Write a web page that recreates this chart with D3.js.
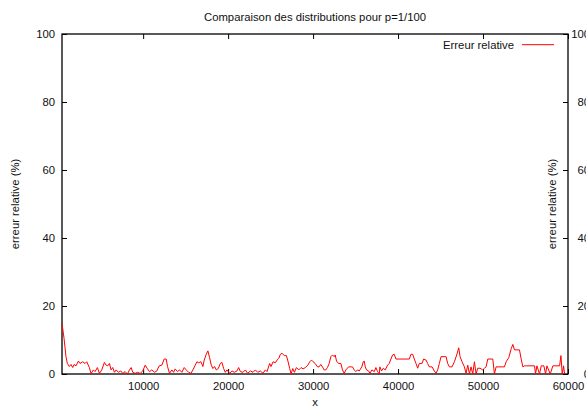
<!DOCTYPE html>
<html>
<head>
<meta charset="utf-8">
<script src="https://cdn.jsdelivr.net/npm/d3@7"></script>
<style>
  body { margin: 0; background: #fff; }
  text { font-family: "Liberation Sans", Arial, sans-serif; fill: #111; }
</style>
</head>
<body>
<svg id="chart" width="586" height="409"></svg>
<script>
"use strict";

// valeurs
var chartTitle = "Comparaison des distributions pour p=1/100";
var seriesName = "Erreur relative";
var xTicks = [10000, 20000, 30000, 40000, 50000, 60000];
var yTicks = [0, 20, 40, 60, 80, 100];

var xValues = [
  450, 690, 920, 1080, 1310, 1510, 1710, 1870, 2100, 2380, 2570, 2890, 3160, 3360, 3670, 3870,
  4140, 4340, 4620, 4850, 5130, 5440, 5640, 5830, 6030, 6230, 6420, 6620, 6820, 7090, 7370, 7600,
  7880, 8150, 8390, 8590, 8780, 9060, 9330, 9650, 9960, 10240, 10510, 10750, 11020, 11340, 11610, 11890,
  12200, 12480, 12710, 12870, 13100, 13380, 13580, 13770, 14050, 14280, 14560, 14830, 15070, 15350, 15620, 15860,
  16130, 16330, 16520, 16800, 17030, 17190, 17430, 17620, 17820, 18020, 18210, 18410, 18610, 18840, 19080, 19280,
  19470, 19670, 19860, 20180, 20450, 20730, 21040, 21240, 21440, 21750, 22030, 22300, 22620, 22930, 23210, 23480,
  23790, 24110, 24380, 24580, 24890, 25050, 25290, 25560, 25760, 25960, 26150, 26350, 26620, 26860, 27060, 27250,
  27410, 27610, 27800, 28040, 28310, 28590, 28820, 29100, 29380, 29610, 29810, 30000, 30240, 30520, 30710, 30910,
  31100, 31300, 31500, 31690, 31890, 32090, 32280, 32480, 32600, 32760, 32990, 33270, 33460, 33660, 33860, 34170,
  34450, 34640, 34840, 35030, 35230, 35430, 35740, 35900, 36020, 36140, 36290, 36530, 36690, 36920, 37200, 37390,
  37590, 37790, 37860, 38060, 38260, 38490, 38770, 38960, 39160, 39360, 39550, 39750, 41320, 41520, 41720, 41910,
  42110, 42310, 42500, 42820, 43010, 43290, 43480, 43680, 44000, 44270, 44470, 44660, 44860, 45060, 45650, 45840,
  46040, 46350, 46630, 46900, 47140, 47300, 47530, 47810, 48000, 48200, 48400, 48590, 48790, 48990, 49180, 49380,
  49650, 49970, 50170, 50360, 50560, 51150, 51340, 51540, 52520, 52720, 53030, 53310, 53510, 53700, 54290, 54490,
  54690, 54880, 55080, 56060, 56180, 56340, 56650, 56850, 57160, 57360, 57520, 57910, 58220, 59010, 59170, 59320,
  59480, 59600
];
var errValues = [
  14.9, 10.5, 5.1, 3.1, 2.2, 2.8, 1.9, 2.8, 2.4, 3.8, 3.1, 3.6, 3.1, 3.6, 1.9, 0.1,
  1.2, 0.7, 1.9, 0.2, 1.2, 3.4, 2.6, 2.4, 3.1, 1.2, 1.9, 0.5, 1.2, 0.5, 0.9, 0.2,
  0.7, 0, 1.2, 1.9, 0.5, 0.2, 0.5, 0.2, 0.9, 2.6, 1.5, 0.7, 1.2, 0.5, 0.9, 2.4,
  2.6, 4.4, 4.4, 2.2, 0.2, 1.2, 0.5, 1.5, 0.7, 1.2, 0.5, 1.9, 1.2, 0.5, 0.2, 1.2,
  2.6, 3.6, 3.3, 3.6, 2.2, 4.1, 5.8, 6.8, 4.8, 2.6, 1.6, 2.2, 1.2, 1.6, 3.1, 3.4,
  1.6, 0.5, 1.2, 0.2, 0.9, 0.5, 0.9, 1.9, 0.7, 0.5, 1.2, 0.2, 0.9, 0.5, 1.2, 0.5,
  0.9, 0.2, 1.2, 0.7, 3.1, 2.2, 3.6, 3.3, 4.1, 4.6, 5.8, 6.1, 5.4, 5.4, 3.6, 1.6,
  0, 1.6, 0.5, 1.9, 1.2, 1.9, 1.5, 1.9, 2.6, 3.6, 4.1, 3.6, 3.1, 2.1, 2.1, 2.8,
  2.1, 1.2, 1.2, 1.9, 3.1, 5.1, 5.6, 5.1, 5.6, 3.8, 3.1, 3.1, 1.2, 0.2, 1.2, 2.1,
  2.1, 2.1, 1.2, 0.7, 1.2, 0.9, 2.1, 3.6, 3.8, 2.1, 1.2, 0.9, 0.2, 1.2, 0.7, 1.9,
  0.7, 0, 2.1, 0.9, 1.7, 1.2, 2.6, 3.1, 4.4, 5.6, 5.8, 4.4, 4.4, 5.8, 5.8, 4.4,
  3.1, 1.7, 3.1, 3.1, 4.4, 4.1, 3.1, 2.1, 2.1, 0.9, 0.2, 1.2, 3.1, 5.1, 5.1, 3.1,
  2.1, 2.1, 3.6, 5.6, 7.7, 5.1, 3.6, 2.1, 0.2, 2.6, 0, 2.1, 0, 3.6, 0, 1.7,
  1.7, 1.2, 1.7, 2.1, 4.4, 4.4, 0, 2.1, 2.1, 3.6, 4.8, 7.4, 8.7, 7.1, 7.1, 4.4,
  2.1, 2.4, 2.4, 2.4, 0, 2.4, 0, 2.4, 2.4, 0, 2.4, 0, 2.4, 2.4, 5.4, 0,
  2.4, 0
];

var margin = {top: 34, right: 18, bottom: 35, left: 62};
var width = 586 - margin.left - margin.right;
var height = 409 - margin.top - margin.bottom;

var svg = d3.select("#chart");
var g = svg.append("g")
  .attr("transform", "translate(" + margin.left + "," + margin.top + ")");

var x = d3.scaleLinear().domain([450, 60000]).range([0, width]);
var y = d3.scaleLinear().domain([0, 100]).range([height, 0]);

var fontSize = "11.3px";

function styleAxis(sel) {
  sel.selectAll(".domain").remove();
  sel.selectAll(".tick line").attr("stroke", "#000").attr("stroke-width", 1);
  sel.selectAll(".tick text")
    .style("font-family", "'Liberation Sans', Arial, sans-serif")
    .style("font-size", fontSize)
    .attr("fill", "#111");
}

g.append("g")
  .attr("transform", "translate(0," + height + ")")
  .call(d3.axisBottom(x).tickValues(xTicks).tickSize(-5).tickPadding(8).tickFormat(d3.format("d")))
  .call(styleAxis);

g.append("g")
  .call(d3.axisTop(x).tickValues(xTicks).tickSize(-5).tickFormat(""))
  .call(styleAxis);

g.append("g")
  .call(d3.axisLeft(y).tickValues(yTicks).tickSize(-5).tickPadding(7))
  .call(styleAxis);

// axe y2 : étiquettes alignées à droite, coupées par le bord comme dans l'original
g.append("g")
  .attr("transform", "translate(" + width + ",0)")
  .call(d3.axisRight(y).tickValues(yTicks).tickSize(-5).tickPadding(22))
  .call(styleAxis)
  .selectAll(".tick text")
    .attr("text-anchor", "end");

// cadre
g.append("rect")
  .attr("x", 0).attr("y", 0)
  .attr("width", width).attr("height", height)
  .attr("fill", "none")
  .attr("stroke", "#000")
  .attr("stroke-width", 1.3);

// la courbe
var line = d3.line()
  .x(function(d, i) { return x(xValues[i]); })
  .y(function(d) { return y(d); });

g.append("path")
  .datum(errValues)
  .attr("d", line)
  .attr("fill", "none")
  .attr("stroke", "#ff0000")
  .attr("stroke-width", 1)
  .attr("stroke-linejoin", "round");

// titres
svg.append("text")
  .attr("x", margin.left + width / 2)
  .attr("y", 20.5)
  .attr("text-anchor", "middle")
  .style("font-size", fontSize)
  .text(chartTitle);

svg.append("text")
  .attr("x", margin.left + width / 2)
  .attr("y", 406)
  .attr("text-anchor", "middle")
  .style("font-size", fontSize)
  .text("x");

svg.append("text")
  .attr("transform", "translate(19," + (margin.top + height / 2) + ") rotate(-90)")
  .attr("text-anchor", "middle")
  .style("font-size", fontSize)
  .text("erreur relative (%)");

svg.append("text")
  .attr("transform", "translate(556," + (margin.top + height / 2) + ") rotate(-90)")
  .attr("text-anchor", "middle")
  .style("font-size", fontSize)
  .text("erreur relative (%)");

// légende
var legend = g.append("g");
legend.append("text")
  .attr("x", 514 - margin.left)
  .attr("y", 49 - margin.top)
  .attr("text-anchor", "end")
  .style("font-size", fontSize)
  .text(seriesName);
legend.append("line")
  .attr("x1", 522 - margin.left).attr("x2", 554 - margin.left)
  .attr("y1", 44.7 - margin.top).attr("y2", 44.7 - margin.top)
  .attr("stroke", "#ff0000")
  .attr("stroke-width", 1);
</script>
</body>
</html>
